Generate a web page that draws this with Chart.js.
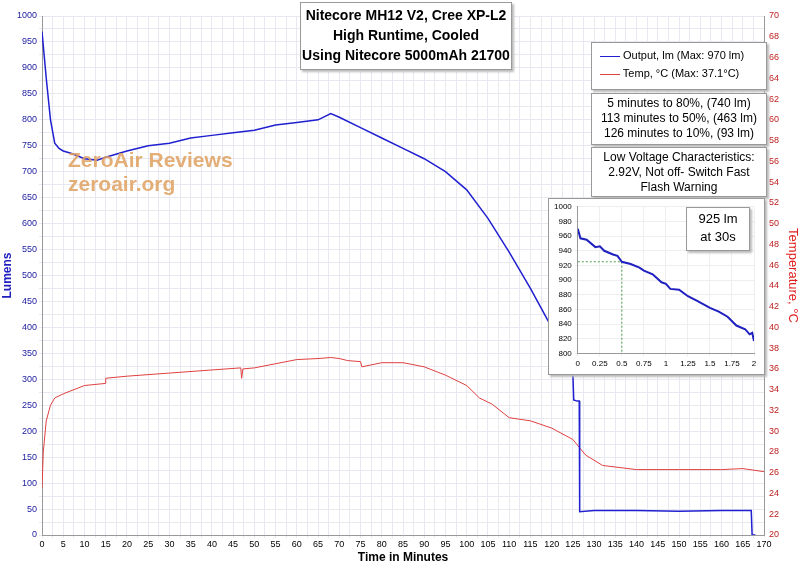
<!DOCTYPE html>
<html><head><meta charset="utf-8">
<script src="https://cdn.jsdelivr.net/npm/chart.js@4"></script>
<style>
body{margin:0;background:#fff;font-family:"Liberation Sans",Arial,sans-serif}
#wrap{position:relative;width:800px;height:565px}
.box{position:absolute;background:#fff;border:1px solid #999;box-shadow:2px 2px 2px #bbb;text-align:center;color:#000}
#wm{position:absolute;left:68px;top:148px;color:#e0a060;font:bold 21px "Liberation Sans";line-height:24px;opacity:.85}
</style></head><body><div id="wrap">
<canvas id="c" width="800" height="565"></canvas>
<div id="wm">ZeroAir Reviews<br>zeroair.org</div>
<div class="box" style="left:300px;top:2px;width:210px;height:64px;font:bold 14px 'Liberation Sans';line-height:20px;padding-top:2px">Nitecore MH12 V2, Cree XP-L2<br>High Runtime, Cooled<br>Using Nitecore 5000mAh 21700</div>
<div class="box" style="left:591px;top:42px;width:174px;height:46px;font:11px 'Liberation Sans';text-align:left">
<div style="margin:6px 0 0 8px"><span style="display:inline-block;width:20px;border-top:1px solid #2020d0;vertical-align:middle"></span> Output, lm (Max: 970 lm)</div>
<div style="margin:6px 0 0 8px"><span style="display:inline-block;width:20px;border-top:1px solid #e04040;vertical-align:middle"></span> Temp, °C (Max: 37.1°C)</div></div>
<div class="box" style="left:591px;top:93px;width:174px;height:48px;font:12px 'Liberation Sans';line-height:15px;padding-top:2px">5 minutes to 80%, (740 lm)<br>113 minutes to 50%, (463 lm)<br>126 minutes to 10%, (93 lm)</div>
<div class="box" style="left:591px;top:147px;width:174px;height:46px;font:12px 'Liberation Sans';line-height:15px;padding-top:2px">Low Voltage Characteristics:<br>2.92V, Not off- Switch Fast<br>Flash Warning</div>
<div class="box" style="left:548px;top:198px;width:215px;height:175px"><canvas id="ins" width="215" height="175"></canvas></div>
<div class="box" style="left:686px;top:207px;width:62px;height:40px;font:13px 'Liberation Sans';line-height:18px;padding-top:2px">925 lm<br>at 30s</div>
</div>
<script>
const minutes=[0,0.5,1,2,3,4,5,7,10,13,15,20,25,30,35,40,45,50,55,60,65,68,70,75,80,85,90,95,100,105,110,115,120,123,125,125.2,126,126.5,126.6,130,140,150,160,167,167.2,168];
const lumens=[970,925,880,800,755,745,740,735,725,722,728,740,750,755,765,770,775,780,790,795,800,812,805,785,765,745,725,700,665,610,545,475,400,345,310,260,258,258,45,47,47,46,47,47,0,0];
const tMinutes=[0,0.3,1,2,3,5,10,14.9,15,20,30,40,46.8,47,47.3,50,55,60,65,68,70,72,75,75.3,80,85,90,95,100,103,106,110,115,120,125,128,132,140,150,160,165,170];
const tempC=[24.5,28,31,32.5,33.2,33.6,34.4,34.6,35.1,35.3,35.6,35.9,36.1,35.1,36.0,36.1,36.5,36.9,37.0,37.1,37.0,36.8,36.7,36.2,36.6,36.6,36.2,35.4,34.4,33.2,32.6,31.3,31.0,30.3,29.2,27.7,26.7,26.3,26.3,26.3,26.4,26.1];
const insetMin=[0,0.03,0.1,0.2,0.25,0.3,0.4,0.45,0.5,0.6,0.7,0.75,0.85,0.95,1.0,1.05,1.15,1.25,1.35,1.5,1.6,1.7,1.8,1.9,1.95,1.98,2.0];
const insetLm=[970,957,955,945,946,940,935,933,925,922,917,913,908,897,895,888,887,878,872,862,857,850,838,833,826,828,817];
const F="'Liberation Sans'";
new Chart(document.getElementById('c'),{type:'line',
data:{datasets:[
{data:minutes.map((m,i)=>({x:m,y:lumens[i]})),borderColor:'#2020d0',borderWidth:1.5,pointRadius:0,yAxisID:'y'},
{data:tMinutes.map((m,i)=>({x:m,y:tempC[i]})),borderColor:'#e04040',borderWidth:1,pointRadius:0,yAxisID:'y2'}]},
options:{animation:false,responsive:false,layout:{padding:{top:16,right:0,left:0,bottom:0}},
plugins:{legend:{display:false},tooltip:{enabled:false}},
scales:{
x:{type:'linear',min:0,max:170,ticks:{stepSize:2.5,autoSkip:false,maxRotation:0,padding:1,font:{size:9,family:F},color:'#000',callback:v=>v%5===0?v:''},grid:{color:'#e8e8f0',tickLength:3},border:{color:'#999'},
title:{display:true,text:'Time in Minutes',font:{size:12,weight:'bold',family:F},color:'#000',padding:0},afterFit:s=>{s.height=30}},
y:{min:0,max:1000,ticks:{stepSize:25,autoSkip:false,padding:2,font:{size:9,family:F},color:'#2020a0',callback:v=>v%50===0?v:''},grid:{color:'#e8e8f0',tickLength:3},border:{color:'#999'},
title:{display:true,text:'Lumens',font:{size:12,weight:'bold',family:F},color:'#2020c0',padding:0},afterFit:s=>{s.width=42}},
y2:{position:'right',min:20,max:70,ticks:{stepSize:2,padding:2,font:{size:9,family:F},color:'#c02020'},grid:{display:false,tickLength:3},border:{color:'#999'},
title:{display:true,text:'Temperature, °C',font:{size:13,family:F},color:'#e02020',padding:0},afterFit:s=>{s.width=36}}}}});
new Chart(document.getElementById('ins'),{type:'line',
data:{datasets:[{data:insetMin.map((m,i)=>({x:m,y:insetLm[i]})),borderColor:'#2020c0',borderWidth:2,pointRadius:0},
{data:[{x:0,y:925},{x:0.5,y:925},{x:0.5,y:800}],borderColor:'#50a050',borderWidth:1,borderDash:[2,2],pointRadius:0}]},
options:{animation:false,responsive:false,layout:{padding:{top:6,right:10,left:2,bottom:2}},plugins:{legend:{display:false},tooltip:{enabled:false}},
scales:{x:{type:'linear',min:0,max:2,ticks:{stepSize:0.25,autoSkip:false,maxRotation:0,font:{size:8,family:F},color:'#000',callback:v=>String(v)},grid:{color:'#eee',tickLength:3},border:{color:'#999'}},
y:{min:800,max:1000,ticks:{stepSize:20,autoSkip:false,font:{size:8,family:F},color:'#000',callback:v=>String(v)},grid:{color:'#eee',tickLength:3},border:{color:'#999'}}}}});
</script></body></html>
